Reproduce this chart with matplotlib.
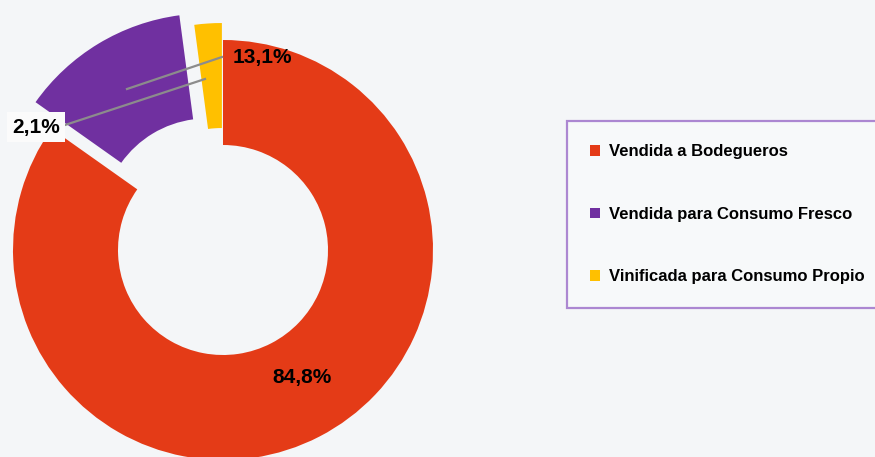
import matplotlib.pyplot as plt

# data
categories = ["Vendida a Bodegueros", "Vendida para Consumo Fresco", "Vinificada para Consumo Propio"]
shares = [84.8, 13.1, 2.1]
share_labels = ["84,8%", "13,1%", "2,1%"]
colors = ["#e43b17", "#7030a0", "#ffc000"]
explode = [0.0, 31, 17]   # pie offsets, in pixel units of this axes

plt.rcParams["font.family"] = ["Liberation Sans", "DejaVu Sans"]

fig = plt.figure(figsize=(8.75, 4.57), dpi=100)
fig.patch.set_facecolor("#f4f6f8")
ax = fig.add_axes([0, 0, 1, 1])

# donut, center and radius in pixel units
wedges, _ = ax.pie(shares, colors=colors, explode=explode, startangle=90,
                   counterclock=False, center=(223, 207), radius=210,
                   wedgeprops=dict(width=105, linewidth=0), frame=True)
ax.set_xlim(0, 875)
ax.set_ylim(0, 457)
ax.set_aspect("equal")
ax.axis("off")

# leader lines
ax.plot([127, 222], [457 - 89, 457 - 57], color="#8c8c8c", lw=1.6)
ax.plot([205, 65], [457 - 79, 457 - 125], color="#8c8c8c", lw=1.6)

# value labels
ax.text(302, 457 - 378, share_labels[0], ha="center", va="center",
        fontsize=15, fontweight="bold", color="black")
ax.text(262, 457 - 58, share_labels[1], ha="center", va="center",
        fontsize=15, fontweight="bold", color="black")
ax.text(36, 457 - 127, share_labels[2], ha="center", va="center",
        fontsize=15, fontweight="bold", color="black",
        bbox=dict(boxstyle="square,pad=0.25", facecolor="#fbfbfb", edgecolor="none"))

leg = ax.legend(wedges, categories, loc="upper left",
                bbox_to_anchor=(567 / 875, 1 - 121 / 457), bbox_transform=fig.transFigure,
                borderaxespad=0, frameon=True, fancybox=False,
                handlelength=0.6, handleheight=0.6, handletextpad=0.5,
                labelspacing=2.85, borderpad=1.4,
                prop=dict(weight="bold", size=12))
frame = leg.get_frame()
frame.set_edgecolor("#9a6cc8")
frame.set_linewidth(1.6)
frame.set_facecolor("#f9fafb")

fig.savefig("out.png", dpi=100, facecolor=fig.get_facecolor())
